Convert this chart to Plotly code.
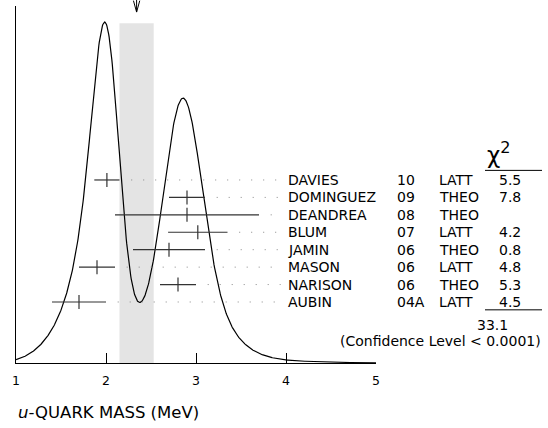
import numpy as np
import plotly.graph_objs as go

# measurements (u-quark mass, MeV)
names = ['DAVIES', 'DOMINGUEZ', 'DEANDREA', 'BLUM', 'JAMIN', 'MASON', 'NARISON', 'AUBIN']
years = ['10', '09', '08', '07', '06', '06', '06', '04A']
kinds = ['LATT', 'THEO', 'THEO', 'LATT', 'THEO', 'LATT', 'THEO', 'LATT']
values = [2.01, 2.9, 2.9, 3.02, 2.7, 1.9, 2.8, 1.7]
errors = [0.14, 0.2, 0.8, 0.33, 0.4, 0.2, 0.2, 0.3]
chi2 = ['5.5', '7.8', '', '4.2', '0.8', '4.8', '5.3', '4.5']
chi2_total = '33.1'
conf_level = '(Confidence Level < 0.0001)'

avg = 2.34      # fitted average
avg_err = 0.19  # scaled error (band)

rows = list(range(len(names)))

# ideogram: sum of gaussians, area ~ 1/sigma
xs = np.linspace(1, 5, 801)
ideo = np.zeros_like(xs)
for v, e in zip(values, errors):
    ideo += (1 / e**2) * np.exp(-(xs - v)**2 / (2 * e**2))
ymax = ideo.max() / 0.955

FONT = 'DejaVu Sans, Arial, sans-serif'

fig = go.Figure()

fig.add_trace(go.Scatter(x=xs, y=ideo, mode='lines',
                         line=dict(color='black', width=1.2),
                         hoverinfo='skip', showlegend=False))

# dotted leaders from each bar to the names
for i, (v, e) in enumerate(zip(values, errors)):
    fig.add_trace(go.Scatter(x=[v + e + 0.13, 3.94], y=[i, i], yaxis='y2', mode='lines',
                             line=dict(color='#888', width=1, dash='1px,11px'),
                             hoverinfo='skip', showlegend=False))

fig.add_trace(go.Scatter(x=values, y=rows, yaxis='y2', mode='markers',
                         marker=dict(symbol='line-ns-open', size=10, color='#333',
                                     line=dict(color='#333', width=1.2)),
                         error_x=dict(type='data', array=errors, width=0,
                                      color='#333', thickness=1.2),
                         hoverinfo='skip', showlegend=False))

fig.update_layout(
    width=548, height=428,
    margin=dict(l=16, r=172, t=6, b=65),
    plot_bgcolor='white', paper_bgcolor='white',
    font=dict(family=FONT, size=14, color='black'),
    xaxis=dict(range=[1, 5], tickvals=[1, 2, 3, 4, 5], ticks='inside', ticklen=10,
               tickcolor='black', showline=True, linecolor='black', linewidth=1.2,
               showgrid=False, zeroline=False, tickfont=dict(size=12.5),
               ticklabelstandoff=6, automargin=False),
    yaxis=dict(range=[0, ymax], showline=True, linecolor='black', linewidth=1.2,
               showticklabels=False, ticks='', showgrid=False, zeroline=False,
               automargin=False),
    yaxis2=dict(range=[10.5, -9.98], overlaying='y', visible=False),
)

# average band and arrow
fig.add_shape(type='rect', xref='x', yref='paper', x0=avg - avg_err, x1=avg + avg_err,
              y0=0, y1=0.952, fillcolor='#e4e4e4', line_width=0, layer='below')
fig.add_shape(type='path', xref='x', yref='paper',
              path=f'M {avg},1.02 L {avg},0.983 M {avg - 0.035},1.015 L {avg},0.983 L {avg + 0.035},1.015',
              line=dict(color='black', width=1))

def px(p):
    return (p - 16) / 360

for i in rows:
    fig.add_annotation(x=px(286), y=i, xref='paper', yref='y2', text=names[i],
                       showarrow=False, xanchor='left')
    fig.add_annotation(x=px(395), y=i, xref='paper', yref='y2', text=years[i],
                       showarrow=False, xanchor='left')
    fig.add_annotation(x=px(437), y=i, xref='paper', yref='y2', text=kinds[i],
                       showarrow=False, xanchor='left')
    if chi2[i]:
        fig.add_annotation(x=px(510), y=i, xref='paper', yref='y2', text=chi2[i],
                           showarrow=False, xanchor='center')

fig.add_annotation(x=px(513), y=-1.55, xref='paper', yref='y2', text='χ<sup>2</sup>',
                   showarrow=False, font=dict(size=23))
for yy in (-0.55, 7.45):
    fig.add_shape(type='line', xref='paper', yref='y2', x0=px(485), x1=px(542),
                  y0=yy, y1=yy, line=dict(color='black', width=1))
fig.add_annotation(x=px(510), y=8.3, xref='paper', yref='y2', text=chi2_total,
                   showarrow=False)
fig.add_annotation(x=px(543), y=9.22, xref='paper', yref='y2', text=conf_level,
                   showarrow=False, xanchor='right')

fig.add_annotation(x=px(16), y=-49 / 357, xref='paper', yref='paper', yanchor='middle',
                   text='<i>u</i>-QUARK MASS (MeV)', showarrow=False, xanchor='left',
                   font=dict(size=16.5))

# page body has a default 8px margin; drop it so the figure sits at the corner
fig.write_html('out.html', config={'displayModeBar': False},
               post_script="document.body.style.margin='0';")
